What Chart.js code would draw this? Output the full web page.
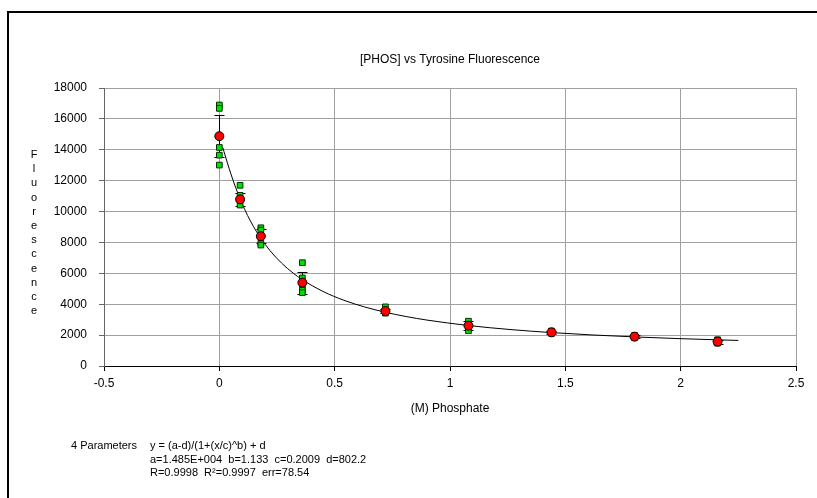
<!DOCTYPE html>
<html>
<head>
<meta charset="utf-8">
<title>[PHOS] vs Tyrosine Fluorescence</title>
<script src="https://cdn.jsdelivr.net/npm/chart.js@4"></script>
<style>
  html, body { margin: 0; padding: 0; background: #fff; }
  #chart { display: block; }
</style>
</head>
<body>
<canvas id="chart" width="817" height="498"></canvas>
<script>
// phosphate concentrations (M)
const conc = [0, 0.09, 0.18, 0.36, 0.72, 1.08, 1.44, 1.80, 2.16];

// individual readings at each concentration
const replicates = [
    [16900, 16680, 14150, 13650, 13010],
    [11700, 11050, 10750, 10420],
    [8950, 8800, 8400, 7940, 7830],
    [6690, 5700, 5100, 4920, 4750],
    [3830, 3600, 3500, 3420],
    [2900, 2700, 2550, 2290],
    [2260, 2200, 2150, 2110],
    [1980, 1920, 1860, 1840],
    [1700, 1600, 1520, 1480]
];

// averages + error bar half-widths
const meanY = [14880, 10790, 8400, 5400, 3560, 2610, 2180, 1900, 1580];
const meanErr = [1360, 400, 440, 710, 150, 280, 80, 100, 130];

// fitted 4 parameter curve
const fitX = [0.015, 0.02, 0.035, 0.05, 0.07, 0.09, 0.11, 0.135, 0.16, 0.18, 0.22, 0.27, 0.32, 0.36,
              0.45, 0.54, 0.63, 0.72, 0.81, 0.9, 1.08, 1.26, 1.44, 1.62, 1.8, 1.98, 2.16, 2.25];
const fitY = [14144, 13890, 13146, 12442, 11585, 10818, 10134, 9381, 8727, 8263, 7465, 6660, 6015, 5585,
              4823, 4257, 3823, 3479, 3202, 2974, 2621, 2362, 2164, 2008, 1883, 1780, 1694, 1656];

const yTicks = [0, 2000, 4000, 6000, 8000, 10000, 12000, 14000, 16000, 18000];
const xTicks = [-0.5, 0, 0.5, 1, 1.5, 2, 2.5];

const chartTitle = "[PHOS] vs Tyrosine Fluorescence";
const yLabel = "Fluorescence";
const fitText = [
    "4 Parameters",
    "y = (a-d)/(1+(x/c)^b) + d",
    "a=1.485E+004  b=1.133  c=0.2009  d=802.2",
    "R=0.9998  R\u00b2=0.9997  err=78.54"
];

const FONT = "'Liberation Sans', Arial, sans-serif";

let repPoints = [];
replicates.forEach((vals, i) => {
    vals.forEach(v => repPoints.push({x: conc[i], y: v}));
});
const meanPoints = conc.map((x, i) => ({x: x, y: meanY[i]}));
const fitPoints = fitX.map((x, i) => ({x: x, y: fitY[i]}));

// error bars drawn under the markers
const errorBars = {
    id: "errorBars",
    beforeDatasetsDraw(chart) {
        const ctx = chart.ctx;
        const xs = chart.scales.x, ys = chart.scales.y;
        ctx.save();
        ctx.strokeStyle = "#000";
        ctx.lineWidth = 1;
        conc.forEach((x, i) => {
            const px = Math.round(xs.getPixelForValue(x)) + 0.5;
            const top = Math.round(ys.getPixelForValue(meanY[i] + meanErr[i])) + 0.5;
            const bot = Math.round(ys.getPixelForValue(meanY[i] - meanErr[i])) + 0.5;
            ctx.beginPath();
            ctx.moveTo(px, top); ctx.lineTo(px, bot);
            ctx.moveTo(px - 5, top); ctx.lineTo(px + 5, top);
            ctx.moveTo(px - 5, bot); ctx.lineTo(px + 5, bot);
            ctx.stroke();
        });
        ctx.restore();
    }
};

// frame, title over the plot, stacked y label and fit results
const extras = {
    id: "extras",
    beforeDraw(chart) {
        const ctx = chart.ctx;
        ctx.save();
        ctx.fillStyle = "#fff";
        ctx.fillRect(0, 0, chart.width, chart.height);
        ctx.fillStyle = "#000";
        ctx.fillRect(7, 11, 2, chart.height);
        ctx.fillRect(7, 11, chart.width, 2);
        ctx.restore();
    },
    afterDraw(chart) {
        const ctx = chart.ctx;
        const area = chart.chartArea;
        ctx.save();
        ctx.fillStyle = "#000";
        ctx.textAlign = "center";
        ctx.textBaseline = "middle";
        ctx.font = "12px " + FONT;
        ctx.fillText(chartTitle, (area.left + area.right) / 2, 60);

        ctx.font = "11px " + FONT;
        yLabel.split("").forEach((ch, i) => ctx.fillText(ch, 34, 155 + i * 14.2));

        ctx.textAlign = "left";
        ctx.fillText(fitText[0], 71, 446);
        ctx.fillText(fitText[1], 150, 446);
        ctx.fillText(fitText[2], 150, 459.5);
        ctx.fillText(fitText[3], 150, 473);
        ctx.restore();
    }
};

new Chart(document.getElementById("chart"), {
    type: "scatter",
    data: {
        datasets: [
            {
                label: "Mean",
                data: meanPoints,
                pointStyle: "circle",
                pointRadius: 4.5,
                pointBackgroundColor: "#ff0000",
                pointBorderColor: "#000",
                pointBorderWidth: 1
            },
            {
                label: "Replicates",
                data: repPoints,
                pointStyle: "rect",
                pointRadius: 4,
                pointBackgroundColor: "#00e000",
                pointBorderColor: "#003000",
                pointBorderWidth: 1
            },
            {
                label: "Fit",
                type: "line",
                data: fitPoints,
                showLine: true,
                pointRadius: 0,
                borderColor: "#000",
                borderWidth: 1,
                cubicInterpolationMode: "monotone",
                fill: false
            }
        ]
    },
    options: {
        responsive: false,
        devicePixelRatio: 1,
        animation: false,
        layout: {padding: {top: 88, left: 0, right: 21, bottom: 82}},
        plugins: {
            legend: {display: false},
            tooltip: {enabled: false},
            title: {display: false}
        },
        scales: {
            x: {
                type: "linear",
                min: -0.5,
                max: 2.5,
                afterBuildTicks: scale => { scale.ticks = xTicks.map(v => ({value: v})); },
                afterFit: scale => { scale.height = 50; },
                ticks: {
                    color: "#000",
                    font: {family: FONT, size: 12},
                    padding: 5,
                    maxRotation: 0,
                    callback: v => String(v)
                },
                grid: {color: "#a0a0a0", lineWidth: 1, tickLength: 5, tickColor: "#000"},
                border: {color: "#000", width: 1},
                title: {
                    display: true,
                    text: "(M) Phosphate",
                    color: "#000",
                    font: {family: FONT, size: 12},
                    padding: {top: 0, bottom: 0}
                }
            },
            y: {
                type: "linear",
                min: 0,
                max: 18000,
                afterBuildTicks: scale => { scale.ticks = yTicks.map(v => ({value: v})); },
                afterFit: scale => { scale.width = 104; },
                ticks: {
                    color: "#000",
                    font: {family: FONT, size: 12},
                    padding: 12,
                    callback: v => String(v)
                },
                grid: {color: "#a0a0a0", lineWidth: 1, tickLength: 5, tickColor: "#666"},
                border: {color: "#666", width: 1}
            }
        }
    },
    plugins: [errorBars, extras]
});
</script>
</body>
</html>
